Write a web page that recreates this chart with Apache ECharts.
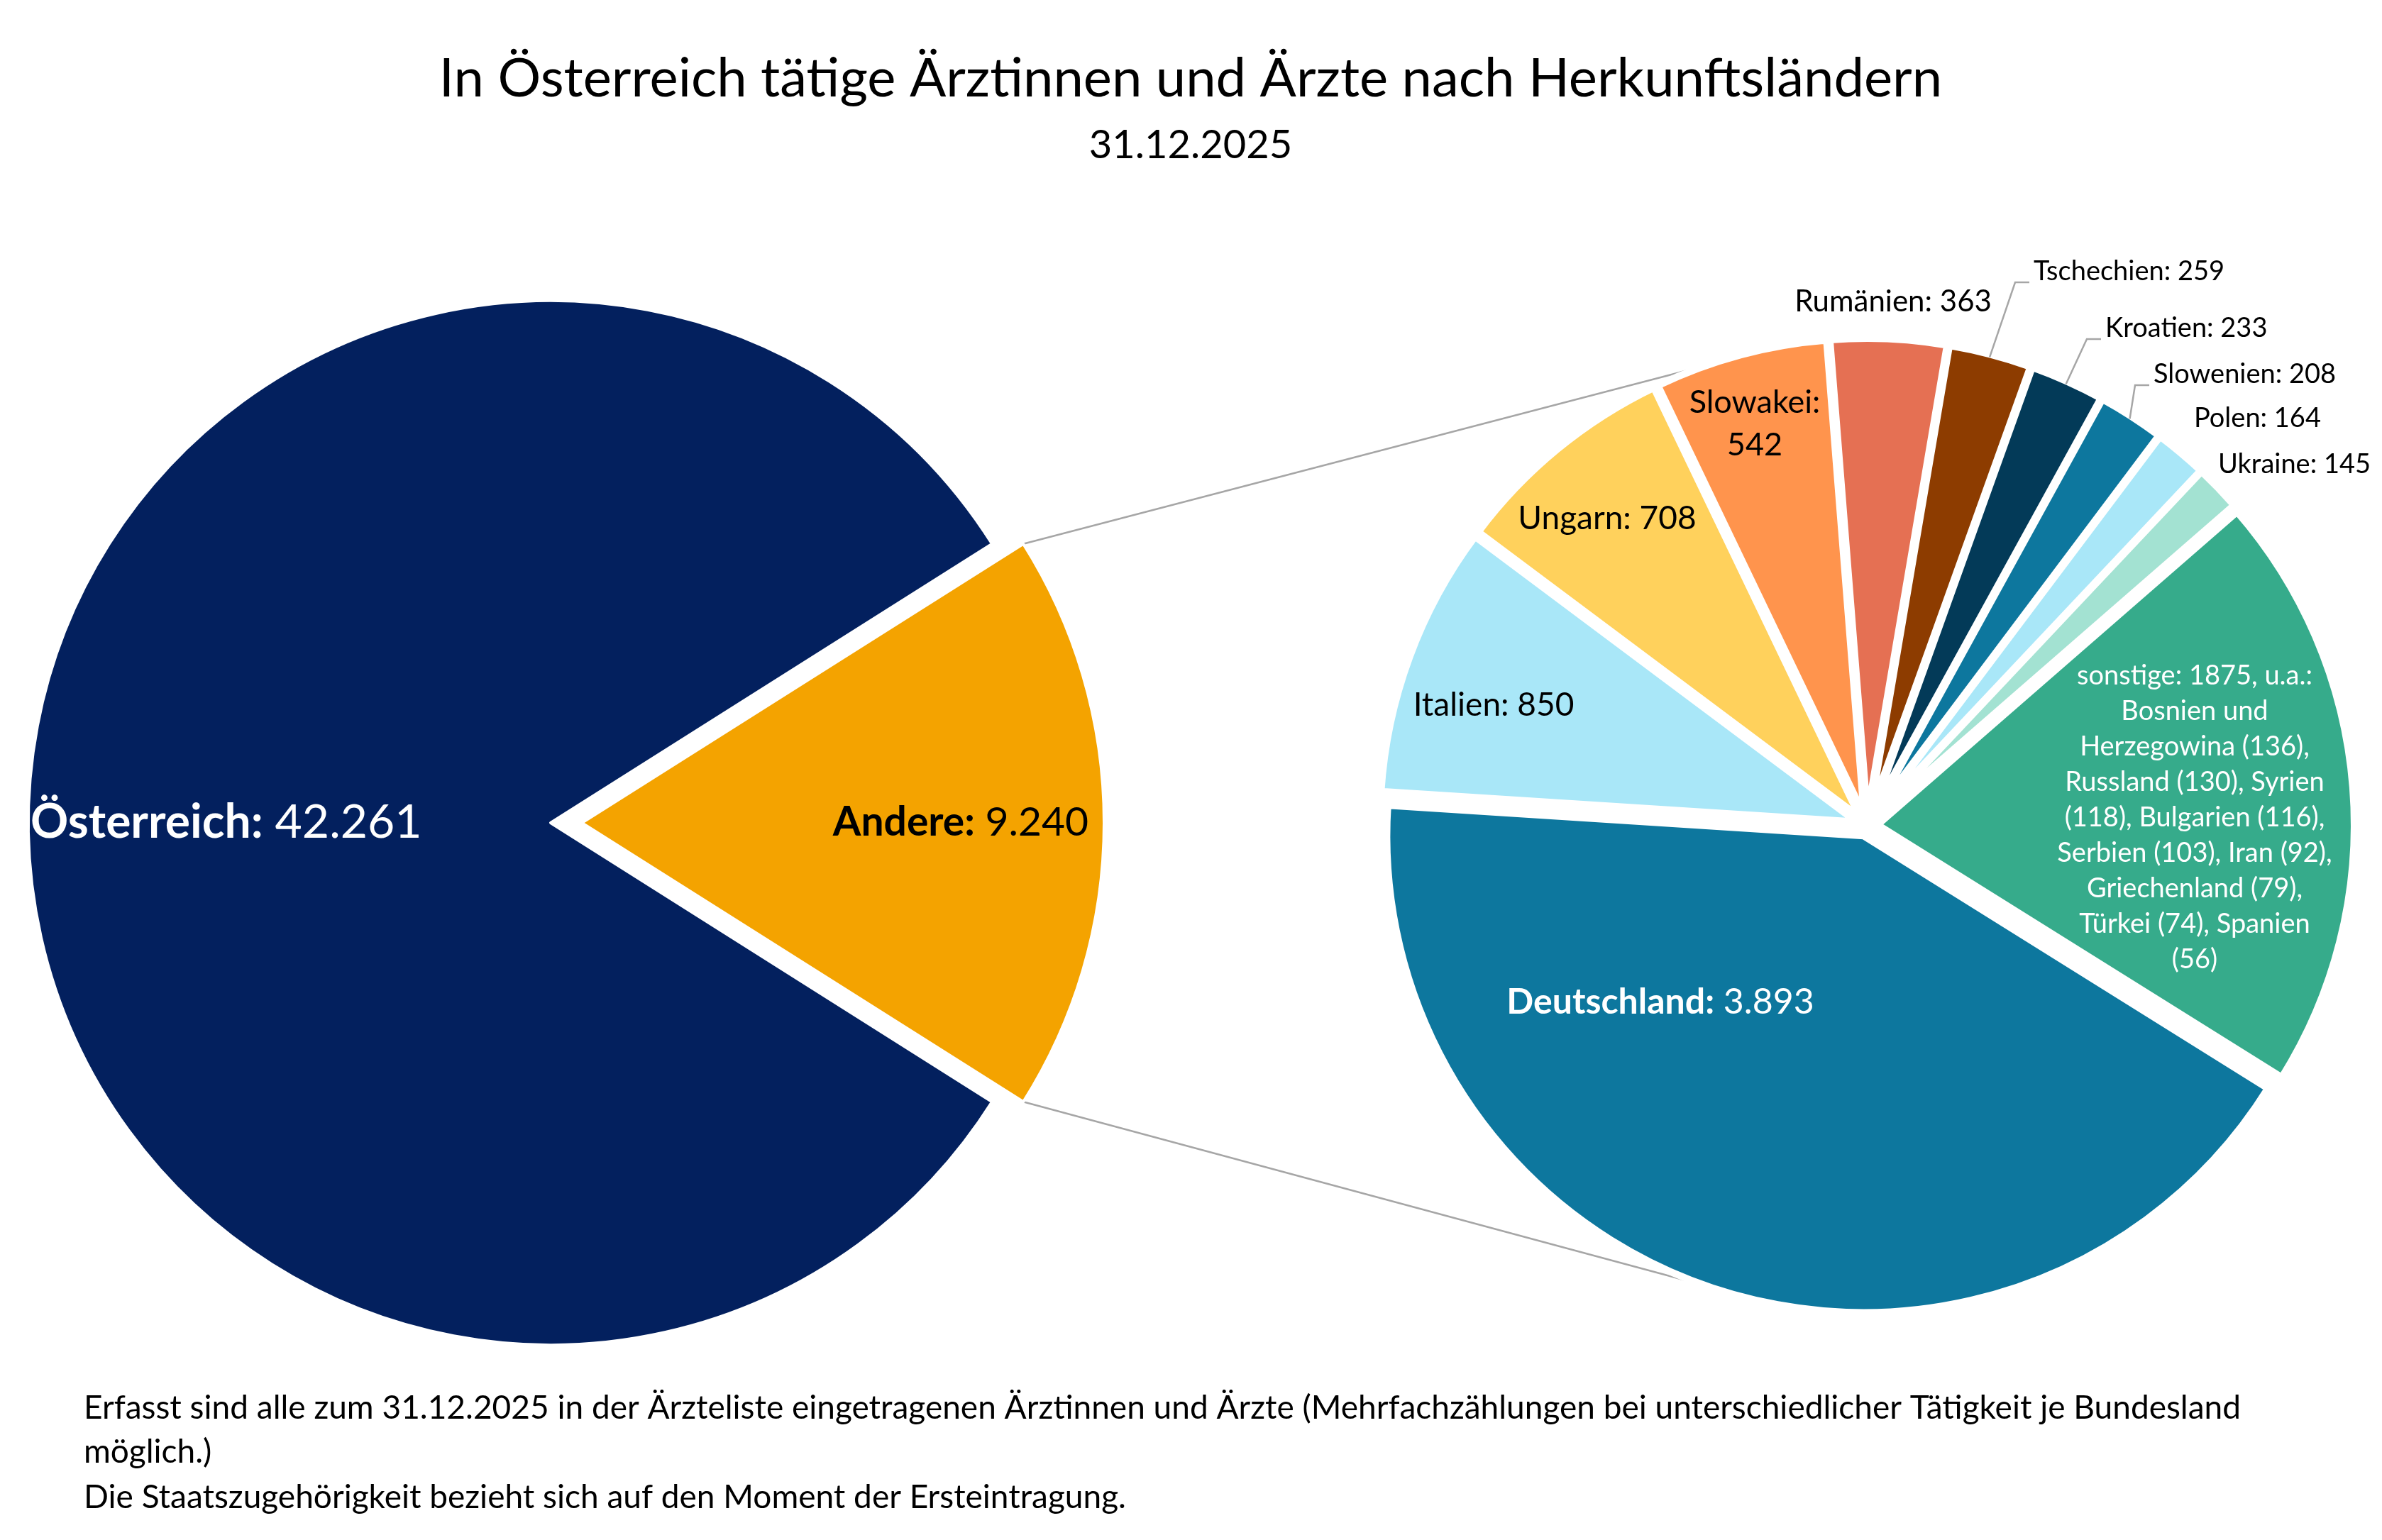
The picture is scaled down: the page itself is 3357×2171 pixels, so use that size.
<!DOCTYPE html>
<html>
<head>
<meta charset="utf-8">
<title>In Österreich tätige Ärztinnen und Ärzte nach Herkunftsländern</title>
<script src="https://cdn.jsdelivr.net/npm/echarts@6/dist/echarts.min.js"></script>
<style>
  html, body { margin: 0; padding: 0; background: #fff; }
  #main { width: 100vw; height: 100vh; }
</style>
</head>
<body>
<div id="main"></div>
<script>
// Hauptkreis: Österreich / Andere
var mainNames = ['Andere', 'Österreich'];
var mainValues = [9240, 42261];
var mainColors = ['#F4A300', '#03205E'];

// Zweiter Kreis: Herkunftsländer der "Andere"
var herkunftNames = ['Deutschland', 'Italien', 'Ungarn', 'Slowakei', 'Rumänien', 'Tschechien',
  'Kroatien', 'Slowenien', 'Polen', 'Ukraine', 'sonstige'];
var herkunftValues = [3893, 850, 708, 542, 363, 259, 233, 208, 164, 145, 1875];
var herkunftColors = ['#0D779E', '#A9E7F8', '#FFD15C', '#FF944D', '#E57053', '#8D3C00',
  '#033A58', '#0D779E', '#A9E7F8', '#A3E2D2', '#36AB8B'];

// "sonstige", u.a.
var sonstigeNames = ['Bosnien und Herzegowina', 'Russland', 'Syrien', 'Bulgarien', 'Serbien',
  'Iran', 'Griechenland', 'Türkei', 'Spanien'];
var sonstigeValues = [136, 130, 118, 116, 103, 92, 79, 74, 56];

var titleText = 'In Österreich tätige Ärztinnen und Ärzte nach Herkunftsländern';
var subTitleText = '31.12.2025';
var footnoteLines = [
  'Erfasst sind alle zum 31.12.2025 in der Ärzteliste eingetragenen Ärztinnen und Ärzte (Mehrfachzählungen bei unterschiedlicher Tätigkeit je Bundesland',
  'möglich.)',
  'Die Staatszugehörigkeit bezieht sich auf den Moment der Ersteintragung.'
];

var FONT = 'Lato, "Open Sans", sans-serif';
var TRANSPARENT = 'rgba(0,0,0,0)';

// Tausenderpunkt
function fmt(v) {
  return String(v).replace(/\B(?=(\d{3})+(?!\d))/g, '.');
}

// Geometrie
var leftC = [776, 1160], leftR = 736, leftOffset = 44;
var rightC = [2631, 1164], rightR = 672, rightOffset = 15;
var connectorAngle = 71;
var rightStart = 328;

var mainTotal = mainValues.reduce(function (a, b) { return a + b; }, 0);
var halfAngle = 180 * mainValues[0] / mainTotal;

// Beschriftungspositionen [x, y, align]
var mainLabelPos = [[1354, 1160, 'center'], [43, 1160, 'left']];
var herkunftLabelPos = {
  'Deutschland': [2340, 1413, 'center'],
  'Italien': [2105, 994, 'center'],
  'Ungarn': [2265, 731, 'center'],
  'Slowakei': [2473, 597, 'center'],
  'Rumänien': [2668, 425, 'center'],
  'Tschechien': [2866, 383, 'left'],
  'Kroatien': [2967, 463, 'left'],
  'Slowenien': [3035, 528, 'left'],
  'Polen': [3092, 590, 'left'],
  'Ukraine': [3126, 655, 'left'],
  'sonstige': [3093, 1153, 'center']
};
var leaderNames = ['Tschechien', 'Kroatien', 'Slowenien'];
var outsideNames = ['Rumänien', 'Tschechien', 'Kroatien', 'Slowenien', 'Polen', 'Ukraine'];
var smallNames = ['Tschechien', 'Kroatien', 'Slowenien', 'Polen', 'Ukraine'];
// Zeilenumbrüche im Text "sonstige" (nach Wort-Nr.)
var sonstigeBreaks = [2, 4, 6, 9, 12, 16, 18, 21];

var sonstigeWords = ('sonstige: ' + herkunftValues[10] + ', u.a.: ' +
  sonstigeNames.map(function (n, i) { return n + ' (' + sonstigeValues[i] + ')'; }).join(', ')).split(' ');
var sonstigeText = sonstigeWords.map(function (w, i) {
  if (i === sonstigeWords.length - 1) return w;
  return w + (sonstigeBreaks.indexOf(i) >= 0 ? '\n' : ' ');
}).join('');

// sichtbare Segmente
var mainData = mainNames.map(function (n, i) {
  return { name: n, value: mainValues[i], selected: n === 'Andere', itemStyle: { color: mainColors[i] } };
});
var herkunftData = herkunftNames.map(function (n, i) {
  return { name: n, value: herkunftValues[i], selected: true, itemStyle: { color: herkunftColors[i] } };
});

// Beschriftungen (transparente Kopie, nicht ausgewählt)
var mainLabelData = mainNames.map(function (n, i) {
  var isAt = n === 'Österreich';
  var fs = isAt ? 66 : 57;
  var col = isAt ? '#fff' : '#000';
  return {
    name: n,
    value: mainValues[i],
    itemStyle: { color: TRANSPARENT },
    label: {
      formatter: '{b|' + n + ':}{v| ' + fmt(mainValues[i]) + '}',
      rich: {
        b: { fontFamily: FONT, fontWeight: 'bold', fontSize: fs, color: col },
        v: { fontFamily: FONT, fontSize: fs, color: col }
      }
    }
  };
});

var herkunftLabelData = herkunftNames.map(function (n, i) {
  var lbl;
  if (n === 'Deutschland') {
    lbl = {
      formatter: '{b|Deutschland:}{v| ' + fmt(herkunftValues[i]) + '}',
      rich: {
        b: { fontFamily: FONT, fontWeight: 'bold', fontSize: 50, color: '#fff' },
        v: { fontFamily: FONT, fontSize: 50, color: '#fff' }
      }
    };
  } else if (n === 'sonstige') {
    lbl = { formatter: sonstigeText, color: '#fff', fontSize: 38, lineHeight: 50, align: 'center' };
  } else if (n === 'Slowakei') {
    lbl = { formatter: n + ':\n' + herkunftValues[i], fontSize: 45, lineHeight: 60, align: 'center' };
  } else if (n === 'Rumänien') {
    lbl = { formatter: n + ': ' + herkunftValues[i], fontSize: 42 };
  } else {
    lbl = { formatter: n + ': ' + herkunftValues[i], fontSize: smallNames.indexOf(n) >= 0 ? 38 : 46 };
  }
  lbl.position = outsideNames.indexOf(n) >= 0 ? 'outside' : 'inside';
  return {
    name: n,
    value: herkunftValues[i],
    itemStyle: { color: TRANSPARENT },
    label: lbl,
    labelLine: { show: leaderNames.indexOf(n) >= 0 }
  };
});

// Verbindungslinien vom Segment "Andere" zum zweiten Kreis
var h = halfAngle * Math.PI / 180;
var ca = (180 - connectorAngle) * Math.PI / 180;
var rr = rightR + rightOffset;
var topStart = [leftC[0] + leftOffset + leftR * Math.cos(h), leftC[1] - leftR * Math.sin(h)];
var botStart = [topStart[0], leftC[1] + leftR * Math.sin(h)];
var topEnd = [rightC[0] + rr * Math.cos(ca), rightC[1] - rr * Math.sin(ca)];
var botEnd = [topEnd[0], rightC[1] + rr * Math.sin(ca)];

var graphics = [
  { type: 'line', z: 0, silent: true, shape: { x1: topStart[0], y1: topStart[1], x2: topEnd[0], y2: topEnd[1] },
    style: { stroke: '#A6A6A6', lineWidth: 2.5 } },
  { type: 'line', z: 0, silent: true, shape: { x1: botStart[0], y1: botStart[1], x2: botEnd[0], y2: botEnd[1] },
    style: { stroke: '#A6A6A6', lineWidth: 2.5 } },
  { type: 'text', silent: true, x: 1678, y: 111,
    style: { text: titleText, fontFamily: FONT, fontSize: 76, fill: '#000', align: 'center', verticalAlign: 'middle' } },
  { type: 'text', silent: true, x: 1678, y: 205,
    style: { text: subTitleText, fontFamily: FONT, fontSize: 56, fill: '#000', align: 'center', verticalAlign: 'middle' } }
];
var footY = [1985, 2047, 2111];
footnoteLines.forEach(function (t, i) {
  graphics.push({ type: 'text', silent: true, x: 118, y: footY[i],
    style: { text: t, fontFamily: FONT, fontSize: 46, fill: '#000', align: 'left', verticalAlign: 'middle' } });
});

function pieBase(center, radius, startAngle) {
  return {
    type: 'pie',
    center: center,
    radius: radius,
    startAngle: startAngle,
    clockwise: true,
    avoidLabelOverlap: false,
    silent: true,
    emphasis: { disabled: true }
  };
}

var series = [];

var s1 = pieBase(leftC, leftR, halfAngle);
s1.name = 'Gesamt';
s1.selectedMode = 'multiple';
s1.selectedOffset = leftOffset;
s1.itemStyle = { borderColor: '#fff', borderWidth: 4 };
s1.label = { show: false };
s1.labelLine = { show: false };
s1.data = mainData;
series.push(s1);

var s2 = pieBase(rightC, rightR, rightStart);
s2.name = 'Herkunft';
s2.selectedMode = 'multiple';
s2.selectedOffset = rightOffset;
s2.itemStyle = { borderColor: '#fff', borderWidth: 10 };
s2.label = { show: false };
s2.labelLine = { show: false };
s2.data = herkunftData;
series.push(s2);

var s3 = pieBase(leftC, leftR, halfAngle);
s3.name = 'Gesamt Beschriftung';
s3.z = 5;
s3.itemStyle = { color: TRANSPARENT, borderWidth: 0 };
s3.label = { show: true, position: 'inside', fontFamily: FONT };
s3.labelLine = { show: false };
s3.labelLayout = function (p) {
  var pl = mainLabelPos[p.dataIndex];
  return { x: pl[0], y: pl[1], align: pl[2], verticalAlign: 'middle' };
};
s3.data = mainLabelData;
series.push(s3);

var s4 = pieBase(rightC, rightR, rightStart);
s4.name = 'Herkunft Beschriftung';
s4.z = 5;
s4.itemStyle = { color: TRANSPARENT, borderWidth: 0 };
s4.label = { show: true, fontFamily: FONT, color: '#000' };
s4.labelLine = { show: false, lineStyle: { color: '#A6A6A6', width: 2.5 } };
s4.labelLayout = function (p) {
  var n = herkunftNames[p.dataIndex];
  var pl = herkunftLabelPos[n];
  var res = { x: pl[0], y: pl[1], align: pl[2], verticalAlign: 'middle' };
  if (leaderNames.indexOf(n) >= 0 && p.labelLinePoints) {
    var s = p.labelLinePoints[0];
    var dx = s[0] - rightC[0], dy = s[1] - rightC[1];
    var len = Math.sqrt(dx * dx + dy * dy);
    var start = [rightC[0] + dx / len * (rr - 4), rightC[1] + dy / len * (rr - 4)];
    res.labelLinePoints = [start, [pl[0] - 26, pl[1] + 15], [pl[0] - 6, pl[1] + 15]];
  }
  return res;
};
s4.data = herkunftLabelData;
series.push(s4);

var myChart = echarts.init(document.getElementById('main'));
myChart.setOption({
  backgroundColor: '#fff',
  animation: false,
  textStyle: { fontFamily: FONT },
  graphic: graphics,
  series: series
});
</script>
</body>
</html>
